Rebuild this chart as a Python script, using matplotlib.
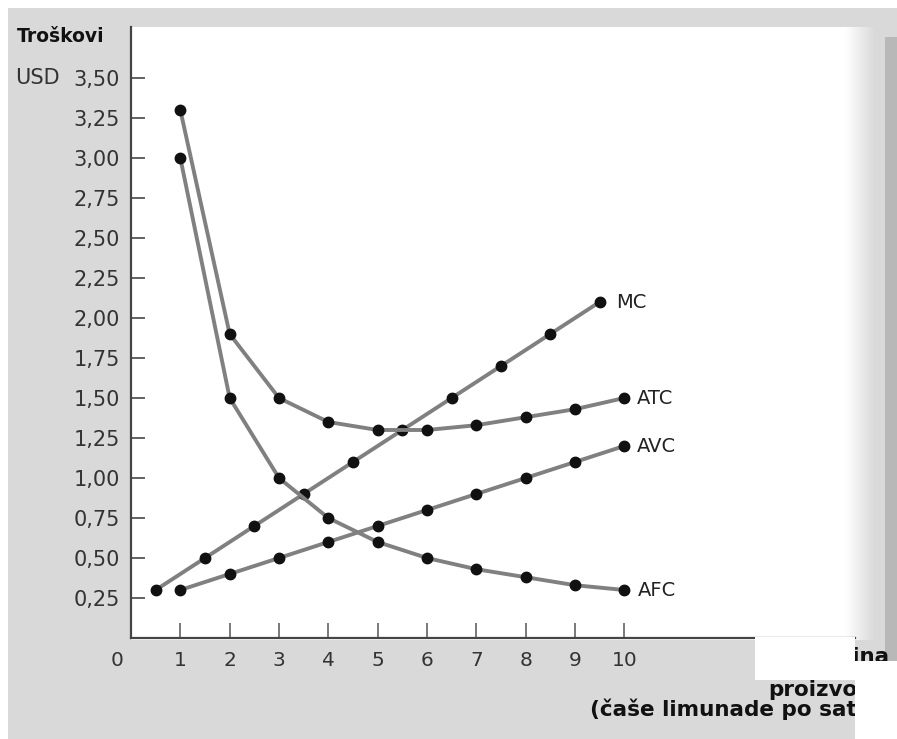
import matplotlib
matplotlib.use("Agg")
import matplotlib.pyplot as plt
from matplotlib.patches import Rectangle
import numpy as np

# ---- data ----
mc_x = [0.5, 1.5, 2.5, 3.5, 4.5, 5.5, 6.5, 7.5, 8.5, 9.5]
mc_y = [0.30, 0.50, 0.70, 0.90, 1.10, 1.30, 1.50, 1.70, 1.90, 2.10]
q = [1, 2, 3, 4, 5, 6, 7, 8, 9, 10]
atc = [3.30, 1.90, 1.50, 1.35, 1.30, 1.30, 1.33, 1.38, 1.43, 1.50]
avc = [0.30, 0.40, 0.50, 0.60, 0.70, 0.80, 0.90, 1.00, 1.10, 1.20]
afc = [3.00, 1.50, 1.00, 0.75, 0.60, 0.50, 0.43, 0.38, 0.33, 0.30]
y_ticks = [0.25, 0.50, 0.75, 1.00, 1.25, 1.50, 1.75, 2.00, 2.25, 2.50, 2.75, 3.00, 3.25, 3.50]
y_labels = ["0,25", "0,50", "0,75", "1,00", "1,25", "1,50", "1,75", "2,00",
            "2,25", "2,50", "2,75", "3,00", "3,25", "3,50"]
x_ticks = q
series_labels = ["MC", "ATC", "AVC", "AFC"]

W, H = 897, 739
fig = plt.figure(figsize=(W / 100, H / 100), dpi=100)
fig.patch.set_facecolor("white")

def rect(x0, y0, x1, y1, color, z=0.0):
    fig.patches.append(Rectangle((x0 / W, 1 - y1 / H), (x1 - x0) / W, (y1 - y0) / H,
                                 transform=fig.transFigure, facecolor=color,
                                 edgecolor="none", zorder=z))

grey = np.array([0.85, 0.85, 0.85])
# scanned page background
rect(8, 8, W, H, tuple(grey), z=-3)
# white plot paper
rect(131, 27, 845, 640, "white", z=-2)
# fade to grey at right
n = 30
for i in range(n):
    t = (i + 0.5) / n
    c = tuple((1 - t) * np.ones(3) + t * grey)
    rect(845 + i, 27, 846 + i, 640, c, z=-2)
# darker strip at right edge
rect(885, 37, W, H, (0.72, 0.72, 0.72), z=-1.5)

ax = fig.add_axes([131 / W, 1 - 638 / H, 724 / W, 611 / H])
ax.set_zorder(1)
ax.patch.set_alpha(0)
ax.set_xlim(0, 724 / 49.33)
ax.set_ylim(0, 611 / 160)

line_c = "#808080"
kw = dict(color=line_c, lw=2.8, marker="o", ms=7.5, mfc="#111111", mec="#111111",
          solid_capstyle="round", zorder=3, clip_on=False)
ax.plot(mc_x, mc_y, **kw)
ax.plot(q, atc, **kw)
ax.plot(q, avc, **kw)
ax.plot(q, afc, **kw)

ends = [(mc_x[-1], mc_y[-1], 12), (q[-1], atc[-1], 9), (q[-1], avc[-1], 9), (q[-1], afc[-1], 10)]
for lab, (ex, ey, off) in zip(series_labels, ends):
    ax.annotate(lab, (ex, ey), xytext=(off, 0), textcoords="offset points",
                va="center", ha="left", fontsize=14, color="#222222")

for s in ["top", "right"]:
    ax.spines[s].set_visible(False)
for s in ["left", "bottom"]:
    ax.spines[s].set_color("#444444")
    ax.spines[s].set_linewidth(1.6)

ax.set_yticks(y_ticks)
ax.set_yticklabels(y_labels)
ax.set_xticks(x_ticks)
ax.set_xticklabels([str(v) for v in x_ticks])
ax.tick_params(axis="y", direction="in", length=10, width=1.3, color="#555555",
               pad=8, labelsize=15, labelcolor="#333333")
ax.tick_params(axis="x", direction="in", length=11, width=1.1, color="#555555",
               pad=9, labelsize=14.5, labelcolor="#333333")

# texts
fig.text(17 / W, 1 - 37 / H, "Troškovi", fontsize=13.5, fontweight="bold",
         color="#111111", va="center", ha="left")
fig.text(15 / W, 1 - 78 / H, "USD", fontsize=15, color="#333333", va="center", ha="left")
fig.text(117 / W, 1 - 660 / H, "0", fontsize=14.5, color="#333333", va="center", ha="center")
fig.text(889 / W, 1 - 657 / H, "Količina", fontsize=15.5, fontweight="bold",
         color="#111111", va="center", ha="right", zorder=2)
fig.text(768 / W, 1 - 690 / H, "proizvodnje", fontsize=15.5, fontweight="bold",
         color="#111111", va="center", ha="left", zorder=2)
fig.text(590 / W, 1 - 709 / H, "(čaše limunade po satu)", fontsize=15.5, fontweight="bold",
         color="#111111", va="center", ha="left", zorder=2)

# white patches covering parts of the scan
rect(755, 637, 855, 680, "white", z=5)
rect(855, 661, W, H, "white", z=5)

fig.savefig("out.png", dpi=100, facecolor=fig.get_facecolor())
